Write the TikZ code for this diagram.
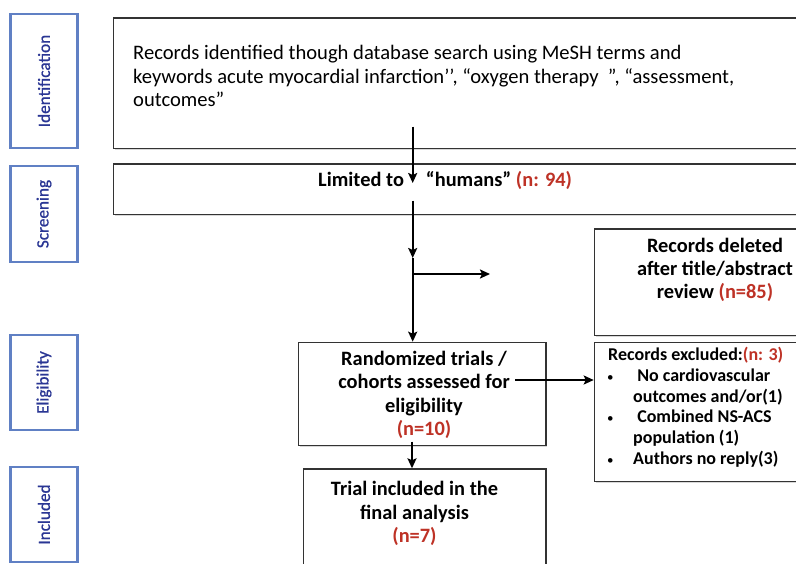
\documentclass[tikz,border=0pt]{standalone}
\usepackage{fontspec}
\setmainfont{Carlito}
\newfontfamily\sidefont{Carlito}[FakeBold=0.8]
\usetikzlibrary{arrows.meta,shadows}
\definecolor{nred}{RGB}{190,50,38}
\definecolor{sideblue}{RGB}{96,128,196}
\definecolor{sidetext}{RGB}{42,54,148}
\newcommand{\smbul}{\makebox[27pt][l]{\hspace{1pt}\mdseries\fontsize{13}{13}\selectfont •}}
\begin{document}
\begin{tikzpicture}[x=1pt,y=-1pt,
  box/.style={draw=black!80,line width=1.3pt,fill=white,inner sep=0pt,
    drop shadow={shadow xshift=1.3pt,shadow yshift=-1.3pt,fill=black!30}},
  side/.style={draw=sideblue,line width=2.5pt,rotate=90,text=sidetext,
    font=\sidefont\fontsize{17.2}{19}\selectfont,inner sep=0pt},
  arr/.style={line width=2.2pt,-{Stealth[length=10pt,width=9pt,inset=2pt]}},
  bt/.style={font=\fontsize{20.4}{23.3}\selectfont\bfseries,align=center,inner sep=0pt},
  nt/.style={font=\fontsize{20.6}{23.3}\selectfont,inner sep=0pt}
]
\useasboundingbox (0,0) rectangle (796,563);
\clip (0,0) rectangle (796,563);
\fill[white] (0,0) rectangle (796,563);

% side labels
\node[side,minimum width=134pt,minimum height=67pt] (sid) at (44,81) {Identification};
\node[side,minimum width=96pt,minimum height=67pt] (ssc) at (44,214) {Screening};
\node[side,minimum width=95pt,minimum height=67pt] (sel) at (44,382.5) {Eligibility};
\node[side,minimum width=95pt,minimum height=67pt] (sin) at (44,514.5) {Included};

% boxes
\node[box,anchor=north west,minimum width=700pt,minimum height=130.4pt] (idbox) at (112.7,17.3) {};
\node[box,anchor=north west,minimum width=700pt,minimum height=50.4pt] (scbox) at (112.7,163.3) {};
\node[box,anchor=north west,minimum width=220pt,minimum height=106.7pt] (del) at (593.7,228.3) {};
\node[box,anchor=north west,minimum width=247.6pt,minimum height=103.3pt] (rand) at (297.7,341.7) {};
\node[box,anchor=north west,minimum width=220pt,minimum height=139.3pt] (excl) at (593.7,341.7) {};
\node[box,anchor=north west,minimum width=242.6pt,minimum height=120pt] (trial) at (302.7,468.3) {};

% texts
\node[nt,anchor=west,align=left] (idtext) at (133,76)
  {Records identified though database search using MeSH terms and\\
   keywords acute myocardial infarction’’, “oxygen therapy\ \ ”, “assessment,\\
   outcomes”};
\node[bt,anchor=west] (sctext) at (318,180)
  {Limited to\hspace{22pt}“humans” \textcolor{nred}{(n: 94)}};
\node[bt] (deltext) at (715,270) {Records deleted\\after title/abstract\\review \textcolor{nred}{(n=85)}};
\node[bt] (randtext) at (424,395) {Randomized trials /\\cohorts assessed for\\eligibility\\\textcolor{nred}{(n=10)}};
\node[bt] (trialtext) at (414.5,513.5) {Trial included in the\\final analysis\\\textcolor{nred}{(n=7)}};
\node[font=\fontsize{18}{20.8}\selectfont\bfseries,align=left,anchor=north west,inner sep=0pt] (excltext) at (606,347)
  {\hspace{2pt}Records excluded:\textcolor{nred}{(n: 3)}\\
   \smbul\ No cardiovascular\\
   \hspace{27pt}outcomes and/or(1)\\
   \smbul\ Combined NS-ACS\\
   \hspace{27pt}population (1)\\
   \smbul Authors no reply(3)};

% connectors
\coordinate (a1s) at (412.7,126.7);
\coordinate (a1e) at (412.7,183);
\coordinate (a2s) at (412.7,200.7);
\coordinate (j) at (412.7,258);
\coordinate (hb) at (412.7,274);
\coordinate (he) at (490,274);
\coordinate (rs) at (515,380);
\coordinate (re) at (593.7,380);
\coordinate (ts) at (412,441.7);

\draw[arr] (a1s) -- (a1e);
\draw[arr] (a2s) -- (j);
\draw[arr] (j) -- (j |- rand.north);
\draw[arr] (hb) -- (he);
\draw[arr] (rs) -- (re);
\draw[arr] (ts) -- (ts |- trial.north);
\end{tikzpicture}
\end{document}
